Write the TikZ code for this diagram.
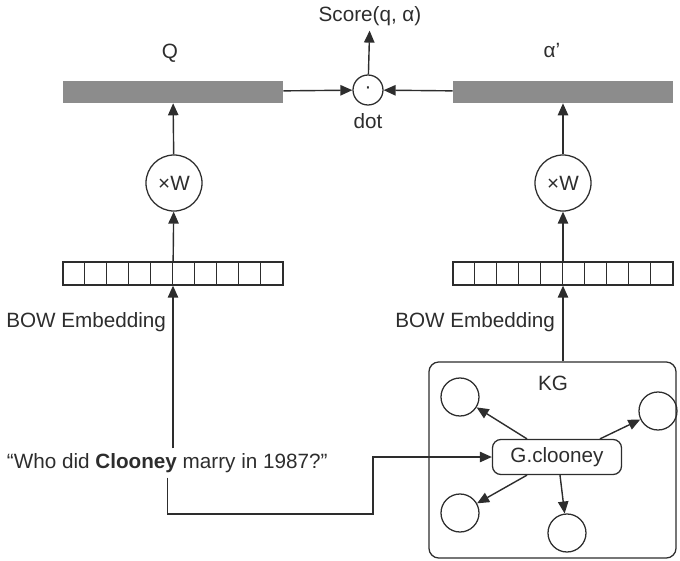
\documentclass[tikz,border=0pt]{standalone}
\usepackage{fontspec}
\setmainfont{Liberation Sans}
\usetikzlibrary{arrows.meta}
\definecolor{barfill}{RGB}{140,140,140}
\definecolor{linecol}{RGB}{45,45,45}

\begin{document}
\begin{tikzpicture}[x=0.025cm, y=-0.025cm,
    every node/.style={font=\fontsize{14.7}{17}\selectfont, text=linecol},
    link/.style={-{Triangle[length=3mm,width=2.6mm]}, line width=1pt, draw=linecol},
    bar/.style={fill=barfill, minimum width=5.5cm, minimum height=0.55cm, inner sep=0pt},
    emb/.style={draw=linecol, line width=0.9pt, minimum width=5.5cm, minimum height=0.575cm, inner sep=0pt},
    mult/.style={circle, draw=linecol, line width=0.9pt, minimum size=1.4cm, inner sep=0pt},
    ent/.style={circle, draw=linecol, line width=0.9pt, minimum size=0.95cm, inner sep=0pt},
    lbl/.style={inner sep=0pt}]
      \useasboundingbox (0,0) rectangle (680,561);
      % top: score of question against answer
      \node (score) at (370,16) {Score(q, α)};
      \node[circle, draw=linecol, line width=0.9pt, minimum size=0.75cm, inner sep=0pt] (dotop) at (368,90) {·};
      \node[lbl] (dotlbl) at (368,121) {dot};
      \node[bar] (qbar) at (173,92) {};
      \node[bar] (abar) at (563,92) {};
      \node[lbl] (qlbl) at (170,53) {Q};
      \node[lbl] (albl) at (552,50) {α'};
      % projections
      \node[mult] (wq) at (174,183) {×W};
      \node[mult] (wa) at (563,183) {×W};
      % bag-of-words vectors
      \node[emb] (qemb) at (173,273.5) {};
      \node[emb] (aemb) at (563,273.5) {};
      \foreach \e in {qemb,aemb} {
        \foreach \i in {1,...,9} {
          \draw[linecol, line width=0.9pt] ([xshift=\i*0.55cm]\e.north west) -- ([xshift=\i*0.55cm]\e.south west);
        }
      }
      \node[lbl, anchor=west] (qbow) at (6,322) {BOW Embedding};
      \node[lbl, anchor=west] (abow) at (395,322) {BOW Embedding};
      % question
      \node[anchor=west] (query) at (2,463) {“Who did \textbf{Clooney} marry in 1987?”};
      % knowledge graph
      \node[draw=linecol, line width=0.9pt, rounded corners=7pt, minimum width=6.175cm, minimum height=4.9cm] (kg) at (552.5,460) {};
      \node[lbl] (kglbl) at (553,383) {KG};
      \node[draw=linecol, line width=0.9pt, rounded corners=6pt, minimum width=3.225cm, minimum height=0.875cm] (gc) at (557,457) {G.clooney};
      \node[ent] (e1) at (460,397) {};
      \node[ent] (e2) at (658,411) {};
      \node[ent] (e3) at (460,513) {};
      \node[ent] (e4) at (567,533) {};
      \coordinate (bend) at (373,514);
      % connectors
      \draw[link] (qbar) -- (dotop);
      \draw[link] (abar) -- (dotop);
      \draw[link] (dotop) -- (score);
      \draw[link] (wq) -- (qbar);
      \draw[link] (wa) -- (abar);
      \draw[link] (qemb) -- (wq);
      \draw[link] (aemb) -- (wa);
      \draw[link] (query.north -| qemb.south) -- (qemb);
      \draw[link] (kg.north -| aemb.south) -- (aemb);
      \draw[link] (query.south) |- (bend) |- (gc.west);
      \draw[link] ([xshift=-0.75cm]gc.north) -- (e1);
      \draw[link] ([xshift=1.075cm]gc.north) -- (e2);
      \draw[link] ([xshift=-0.75cm]gc.south) -- (e3);
      \draw[link] ([xshift=0.075cm]gc.south) -- (e4);
\end{tikzpicture}
\end{document}
